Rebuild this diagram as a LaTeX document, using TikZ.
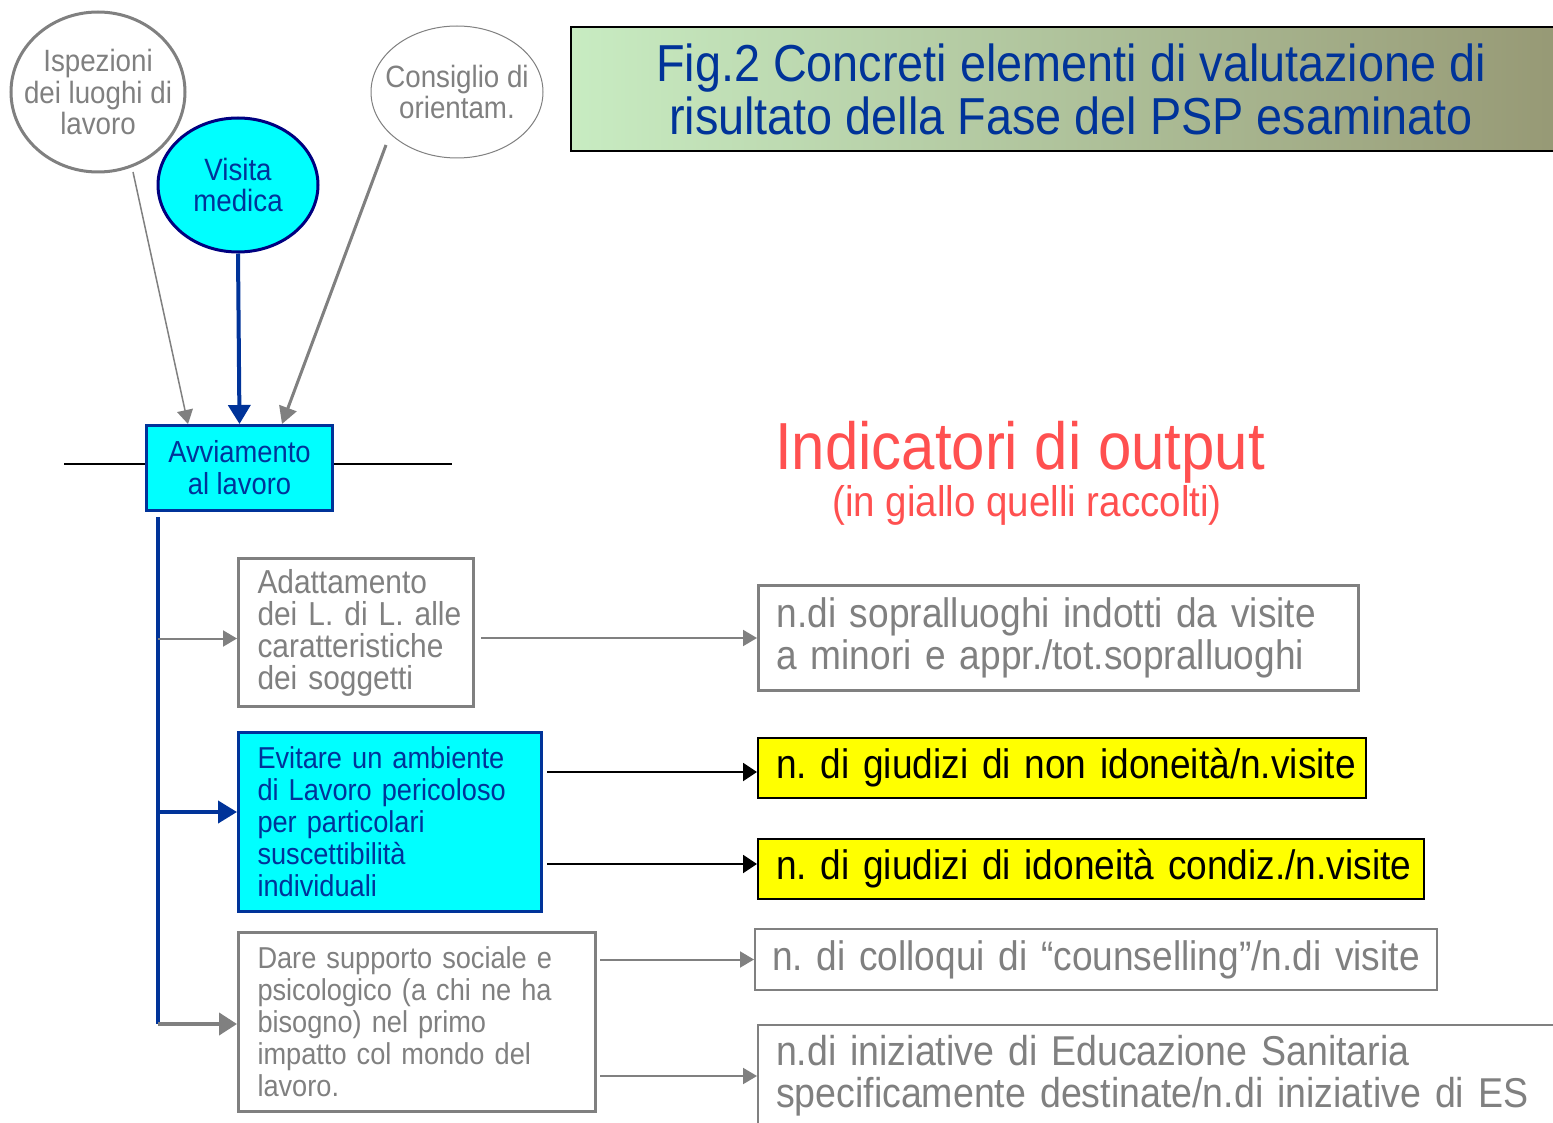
\documentclass[tikz,border=0pt]{standalone}
\usepackage{fontspec}
\setmainfont{Liberation Sans}[FakeStretch=0.9]
\usetikzlibrary{shapes.geometric,arrows.meta,calc}
\definecolor{gtxt}{RGB}{128,128,128}
\definecolor{navy}{RGB}{0,51,153}
\definecolor{dnavy}{RGB}{0,0,128}
\definecolor{cyanf}{RGB}{0,255,255}
\definecolor{yel}{RGB}{255,255,0}
\definecolor{salmon}{RGB}{255,80,80}
\definecolor{tgreen}{RGB}{200,236,194}
\definecolor{tolive}{RGB}{150,152,116}
\newcommand\nb[1]{\mbox{#1}}
\frenchspacing
\tikzset{
  boxbase/.style={anchor=north west, line width=1.5pt, inner ysep=2pt, align=left},
  graybox/.style={boxbase, draw=gtxt, fill=white, text=gtxt, inner xsep=9.5pt, font=\frenchspacing\fontsize{15.1}{16}\selectfont},
  cyanbox/.style={boxbase, draw=navy, fill=cyanf, text=navy, inner xsep=9.5pt, font=\frenchspacing\fontsize{15.1}{16}\selectfont},
  indbox/.style={boxbase, draw=gtxt, fill=white, text=gtxt, inner xsep=9pt, font=\frenchspacing\fontsize{20.6}{21}\selectfont},
  yelbox/.style={boxbase, draw=black, line width=1pt, fill=yel, text=black, inner xsep=9pt, font=\frenchspacing\fontsize{20.6}{21}\selectfont},
  circ/.style={ellipse, inner sep=-12pt, align=center, font=\fontsize{15.4}{15.75}\selectfont},
  garrow/.style={draw=gtxt, -{Triangle[length=7pt,width=8pt]}},
  gbigarrow/.style={draw=gtxt, line width=2pt, -{Triangle[length=9pt,width=11pt]}},
  barrow/.style={draw=black, line width=1pt, -{Triangle[length=7pt,width=9pt]}},
  narrow/.style={draw=navy, line width=2pt, -{Triangle[length=9.5pt,width=11pt]}},
}
\begin{document}
\begin{tikzpicture}[x=0.5pt,y=-0.5pt]
\clip (0,0) rectangle (1553,1123);
\fill[white] (0,0) rectangle (1553,1123);

% title
\node[anchor=north west, draw=black, line width=1pt, left color=tgreen, right color=tolive,
  minimum width=500pt, minimum height=62pt, inner sep=0pt, align=center, text=navy,
  font=\fontsize{26}{26.5}\selectfont] (title) at (570,26)
  {Fig.2 Concreti elementi di valutazione di\\risultato della Fase del PSP esaminato};

% circles
\node[circ, draw=gtxt, line width=1.5pt, text=gtxt, minimum width=87pt, minimum height=80pt] (isp) at (98,92)
  {Ispezioni\\dei luoghi di\\lavoro};
\node[circ, draw=gtxt, line width=0.5pt, text=gtxt, minimum width=86pt, minimum height=66pt] (cons) at (457,92)
  {Consiglio di\\orientam.};
\node[circ, draw=dnavy, line width=1.5pt, fill=cyanf, text=navy, minimum width=80pt, minimum height=67pt] (vis) at (238,185)
  {Visita\\medica};

% horizontal line behind Avviamento
\coordinate (hl) at (64,464);
\coordinate (hr) at (452,464);
\draw[black, line width=0.8pt] (hl) -- (hr);

\node[anchor=north west, draw=navy, line width=1.5pt, fill=cyanf, text=navy, align=center,
  minimum width=93pt, minimum height=42.5pt, inner sep=0pt, font=\fontsize{15.2}{16}\selectfont] (avv) at (145,424)
  {Avviamento\\al lavoro};

% arrows into Avviamento
\coordinate (i0) at (133,172);
\coordinate (c0) at (386,145);
\coordinate (a1) at (188,424);
\coordinate (a3) at (282,424);
\draw[garrow, line width=0.75pt] (i0) -- (a1);
\draw[narrow] (vis.south) -- (avv.north);
\draw[garrow, line width=1.5pt, -{Triangle[length=8.5pt,width=9pt]}] (c0) -- (a3);

% middle boxes
\node[graybox, text width=98.5pt, minimum width=117.5pt, minimum height=74pt, font=\frenchspacing\fontsize{16.6}{16}\selectfont] (adat) at (237,557)
  {\nb{Adattamento}\\\nb{dei L. di L. alle}\\\nb{caratteristiche}\\\nb{dei soggetti}};
\node[cyanbox, text width=132.5pt, minimum width=151.5pt, minimum height=89.5pt] (evit) at (237,731)
  {\nb{Evitare un ambiente}\\\nb{di Lavoro pericoloso}\\\nb{per particolari}\\\nb{suscettibilità}\\\nb{individuali}};
\node[graybox, text width=159.5pt, minimum width=178.5pt, minimum height=89.5pt] (dare) at (237,931)
  {\nb{Dare supporto sociale e}\\\nb{psicologico (a chi ne ha}\\\nb{bisogno) nel primo}\\\nb{impatto col mondo del}\\\nb{lavoro.}};

% trunk
\coordinate (t0) at (158,517);
\coordinate (t1) at (158,1024);
\coordinate (adin) at ($(adat.west)+(0,6)$);
\coordinate (evin) at ($(evit.west)+(0,-10)$);
\draw[navy, line width=2pt] (t0) -- (t1);
\draw[garrow, line width=1pt] (t0 |- adin) -- (adin);
\draw[narrow] (t0 |- evin) -- (evin);
\draw[gbigarrow] (t1) -- (dare.west |- t1);

% heading
\node[text=salmon, font=\fontsize{33.3}{36}\selectfont, inner sep=0pt] (ind) at (1020,452) {Indicatori di output};
\node[text=salmon, font=\fontsize{21.4}{22}\selectfont, inner sep=0pt] (ind2) at (1027,505) {(in giallo quelli raccolti)};

% indicator boxes
\node[indbox, text width=282pt, minimum width=300pt, minimum height=52.5pt] (sopr) at (757,584)
  {\nb{n.di sopralluoghi indotti da visite}\\\nb{a minori e appr./tot.sopralluoghi}};
\node[yelbox, text width=286pt, minimum width=304pt, minimum height=30pt] (g1) at (757,737)
  {\nb{n. di giudizi di non idoneità/n.visite}};
\node[yelbox, text width=315pt, minimum width=333pt, minimum height=30pt] (g2) at (757,838)
  {\nb{n. di giudizi di idoneità condiz./n.visite}};
\node[indbox, line width=1pt, inner xsep=8.5pt, text width=324pt, minimum width=341pt, minimum height=30.5pt] (coll) at (754,928)
  {\nb{n. di colloqui di “counselling”/n.di visite}};
\node[indbox, line width=1pt, text width=392pt, minimum width=410pt, minimum height=51pt, font=\frenchspacing\fontsize{20.85}{21}\selectfont] (iniz) at (757,1024)
  {\nb{n.di iniziative di Educazione Sanitaria}\\\nb{specificamente destinate/n.di iniziative di ES}};

% arrows to indicators
\coordinate (g1in) at ($(g1.west)+(0,4)$);
\coordinate (g2in) at ($(g2.west)+(0,-5)$);
\draw[garrow, line width=1pt, shorten <=3pt] (adat.east |- sopr.west) -- (sopr.west);
\draw[barrow, shorten <=2pt] (evit.east |- g1in) -- (g1in);
\draw[barrow, shorten <=2pt] (evit.east |- g2in) -- (g2in);
\draw[garrow, line width=1pt, shorten <=1.5pt] (dare.east |- coll.west) -- (coll.west);
\draw[garrow, line width=1pt, shorten <=1.5pt] (dare.east |- iniz.west) -- (iniz.west);
\end{tikzpicture}
\end{document}
